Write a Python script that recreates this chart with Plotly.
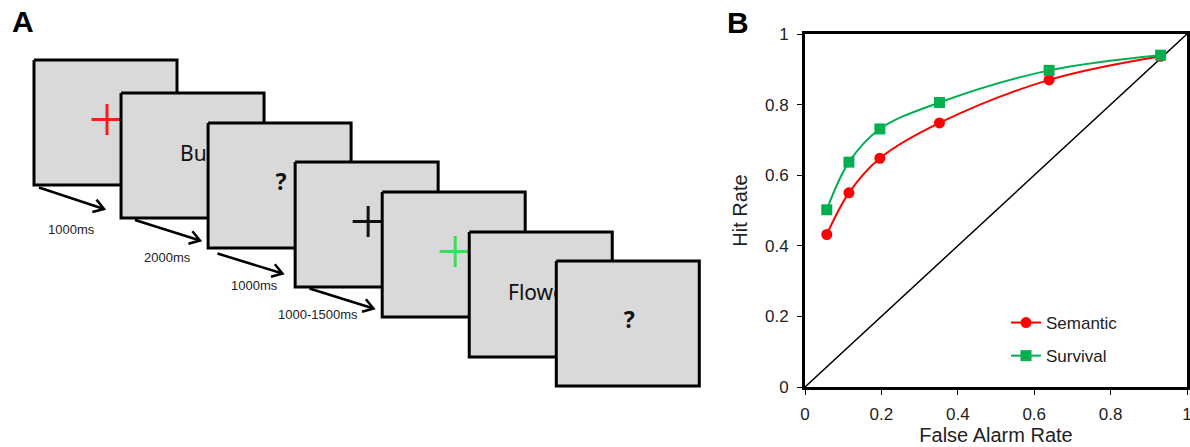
import math
import plotly.graph_objects as go

# ---------------- Data: panel B (ROC curves) ----------------
false_alarm = [0.057, 0.115, 0.196, 0.352, 0.639, 0.931]
hit_semantic = [0.432, 0.550, 0.648, 0.748, 0.870, 0.937]
hit_survival = [0.502, 0.637, 0.731, 0.806, 0.897, 0.940]
tick_vals = [0, 0.2, 0.4, 0.6, 0.8, 1]
tick_text = ["0", "0.2", "0.4", "0.6", "0.8", "1"]
series_names = ["Semantic", "Survival"]

# ---------------- Data: panel A (trial sequence) ----------------
frame_contents = ["red_cross", "Bus", "?", "black_cross", "green_cross", "Flower", "?"]
durations = ["1000ms", "2000ms", "1000ms", "1000-1500ms"]

# ---------------- Geometry (pixel space, panel A) ----------------
W, H = 1190, 447
FRAME_W, FRAME_H = 143, 125
FRAME_LEFT0, FRAME_DX = 34, 87.05
FRAME_TOPS = [60, 93, 123, 162, 192, 232, 261]
WORD_START = {"Bus": 180, "Flower": 508}
CROSS_COLORS = {"red_cross": "#ff1a1a", "black_cross": "#111111", "green_cross": "#3ddc5a"}
ARROWS = [((39, 187.5), (104, 209)), ((135, 220), (200, 240.5)),
          ((217.5, 253.5), (282.5, 273.5)), ((309.5, 288.5), (373.5, 308.5))]
LABEL_POS = [(71, 229), (167, 257), (254, 285), (317.5, 314)]

fig = go.Figure()

A = dict(xaxis="x2", yaxis="y2", showlegend=False, hoverinfo="skip")

for i, content in enumerate(frame_contents):
    l = FRAME_LEFT0 + i * FRAME_DX
    t = FRAME_TOPS[i]
    r, b = l + FRAME_W, t + FRAME_H
    cx, cy = (l + r) / 2, (t + b) / 2
    fig.add_trace(go.Scatter(x=[l, r, r, l, l], y=[t, t, b, b, t], mode="lines",
                             fill="toself", fillcolor="#d9d9d9",
                             line=dict(color="black", width=3), **A))
    if content.endswith("cross"):
        px, py, arm = cx + 1.5, cy - 3, 15.5
        fig.add_trace(go.Scatter(x=[px - arm, px + arm, None, px, px],
                                 y=[py, py, None, py - arm, py + arm], mode="lines",
                                 line=dict(color=CROSS_COLORS[content], width=3), **A))
    elif content == "?":
        fig.add_trace(go.Scatter(x=[cx + 1.5], y=[cy - 1], mode="text", text=["<b>?</b>"],
                                 textposition="middle center",
                                 textfont=dict(family="Noto Sans", size=23, color="#111"), **A))
    else:
        fig.add_trace(go.Scatter(x=[WORD_START[content]], y=[cy], mode="text", text=[content],
                                 textposition="middle right",
                                 textfont=dict(family="Noto Sans", size=21, color="#111"), **A))

# arrows with open heads
for (s, e) in ARROWS:
    dx, dy = e[0] - s[0], e[1] - s[1]
    n = math.hypot(dx, dy)
    bx, by = -dx / n, -dy / n
    arms = []
    for ang in (math.radians(33), math.radians(-33)):
        ax = bx * math.cos(ang) - by * math.sin(ang)
        ay = bx * math.sin(ang) + by * math.cos(ang)
        arms.append((e[0] + 12 * ax, e[1] + 12 * ay))
    fig.add_trace(go.Scatter(
        x=[s[0], e[0], None, arms[0][0], e[0], arms[1][0]],
        y=[s[1], e[1], None, arms[0][1], e[1], arms[1][1]],
        mode="lines", line=dict(color="black", width=2.5), **A))

annotations = []
for lab, (lx, ly) in zip(durations, LABEL_POS):
    annotations.append(dict(x=lx, y=ly, xref="x2", yref="y2", text=lab, showarrow=False,
                            font=dict(family="Liberation Sans", size=13, color="#222"),
                            xanchor="center", yanchor="middle"))
annotations.append(dict(x=22.5, y=21, xref="x2", yref="y2", text="<b>A</b>", showarrow=False,
                        font=dict(family="Liberation Sans", size=30, color="black"),
                        xanchor="center", yanchor="middle"))
annotations.append(dict(x=738, y=22.5, xref="x2", yref="y2", text="<b>B</b>", showarrow=False,
                        font=dict(family="Liberation Sans", size=30, color="black"),
                        xanchor="center", yanchor="middle"))

# ---------------- Panel B traces ----------------
fig.add_trace(go.Scatter(x=[tick_vals[0], tick_vals[-1]], y=[tick_vals[0], tick_vals[-1]],
                         mode="lines", line=dict(color="black", width=1.5),
                         showlegend=False, hoverinfo="skip"))
fig.add_trace(go.Scatter(x=false_alarm, y=hit_semantic, mode="lines+markers",
                         name=series_names[0], legendgroup="g1",
                         line=dict(color="#ff0000", width=2, shape="spline"),
                         marker=dict(symbol="circle", size=11, color="#ff0000")))
fig.add_trace(go.Scatter(x=false_alarm, y=hit_survival, mode="lines+markers",
                         name=series_names[1], legendgroup="g2",
                         line=dict(color="#00b050", width=2, shape="spline"),
                         marker=dict(symbol="square", size=11, color="#00b050")))

axis_common = dict(range=[0, 1], showline=True, linewidth=3, linecolor="black", mirror=True,
                   ticks="outside", ticklen=5, tickwidth=1, tickcolor="black",
                   tickvals=tick_vals, ticktext=tick_text, showgrid=False, zeroline=False,
                   tickfont=dict(family="Liberation Sans", size=17, color="#222"),
                   ticklabelstandoff=5, ticklabeloverflow="allow",
                   fixedrange=True, automargin=False)

fig.update_layout(
    width=W, height=H, margin=dict(l=0, r=0, t=0, b=0, autoexpand=False),
    paper_bgcolor="white", plot_bgcolor="rgba(0,0,0,0)",
    xaxis=dict(domain=[805 / W, 1187 / W], anchor="y",
               title=dict(text="False Alarm Rate", standoff=4,
                          font=dict(family="Liberation Sans", size=20, color="#222")),
               **axis_common),
    yaxis=dict(domain=[60 / H, 413 / H], anchor="x",
               title=dict(text="Hit Rate", standoff=12,
                          font=dict(family="Liberation Sans", size=20, color="#222")),
               **axis_common),
    xaxis2=dict(domain=[0, 1], range=[0, W], visible=False, anchor="y2", fixedrange=True),
    yaxis2=dict(domain=[0, 1], range=[H, 0], visible=False, anchor="x2", fixedrange=True),
    legend=dict(x=1006 / W, y=(H - 305) / H, xanchor="left", yanchor="top",
                bgcolor="rgba(0,0,0,0)", traceorder="grouped", tracegroupgap=8,
                font=dict(family="Liberation Sans", size=17, color="#222")),
    annotations=annotations,
    showlegend=True,
)

fig.write_html("out.html")
